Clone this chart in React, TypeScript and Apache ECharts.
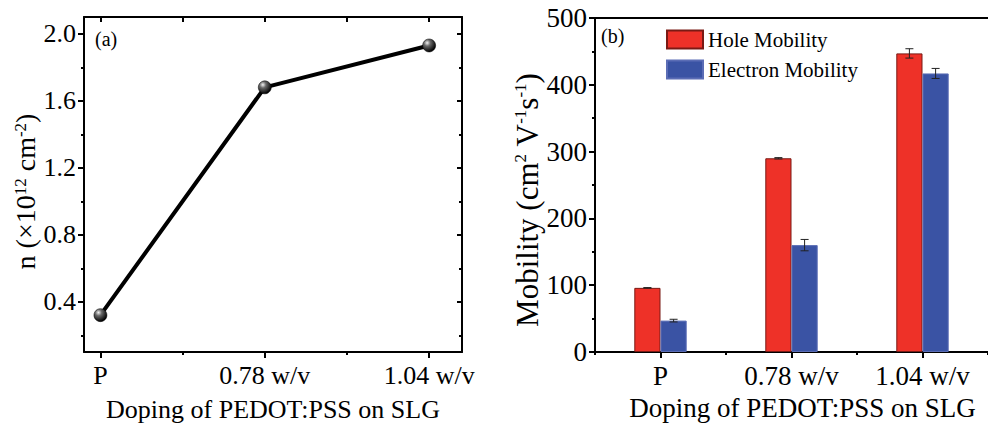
import React, { useEffect, useRef } from 'react';
import * as echarts from 'echarts';

const FONT = '"Liberation Serif", "Times New Roman", serif';

const categories = ['P', '0.78 w/v', '1.04 w/v'];
const carrierDensity = [0.32, 1.68, 1.93];
const leftYMajor = [0.4, 0.8, 1.2, 1.6, 2.0];
const leftYMinor = [0.2, 0.6, 1.0, 1.4, 1.8];
const leftXMajor = [0, 1, 2];
const leftXMinor = [0.5, 1.5];
const leftXRange = [-0.1, 2.2];
const leftYRange = [0.1, 2.1];

const holeMobility = [96, 290, 447];
const holeErr = [0.4, 1, 7];
const electronMobility = [47, 160, 417];
const electronErr = [2, 8.5, 7.5];
const rightYRange = [0, 500];

const RED = '#ee3128';
const BLUE = '#3a53a4';

export default function App() {
  const ref = useRef<HTMLDivElement>(null);
  useEffect(() => {
    const chart = echarts.init(ref.current!, null, { renderer: 'svg' });
    const axisLineOn = () => ({ show: true, onZero: false, lineStyle: { color: '#000', width: 2 } });
    const tickStyle = () => ({ color: '#000', width: 2 });
    const noLabel = { show: false };
    const noSplit = { show: false };
    const supRich = {
      sup: { fontSize: 17, verticalAlign: 'top', fontFamily: FONT, color: '#000', lineHeight: 28 },
    };

    const sphere = new echarts.graphic.RadialGradient(0.35, 0.3, 0.7, [
      { offset: 0, color: '#f2f2f2' },
      { offset: 0.35, color: '#6a6a6a' },
      { offset: 1, color: '#000' },
    ]);

    const errData: number[][] = [];
    holeMobility.forEach((v, i) => errData.push([i, v, holeErr[i], -1]));
    electronMobility.forEach((v, i) => errData.push([i, v, electronErr[i], 1]));

    const frameLine = (x1: number, y1: number, x2: number, y2: number) => ({
      type: 'line', shape: { x1, y1, x2, y2 }, style: { stroke: '#000', lineWidth: 2 },
    });

    const option: any = {
      animation: false,
      backgroundColor: '#fff',
      textStyle: { fontFamily: FONT, color: '#000' },
      grid: [
        { left: 84, top: 17, width: 378, height: 339 },
        { left: 595, top: 18, width: 399, height: 334 },
      ],
      xAxis: [
        {
          type: 'value', gridIndex: 0, min: leftXRange[0], max: leftXRange[1], position: 'bottom',
          axisLine: axisLineOn(),
          axisTick: { show: true, customValues: leftXMajor, length: 6, lineStyle: tickStyle() },
          axisLabel: {
            customValues: leftXMajor, fontSize: 26, color: '#000', fontFamily: FONT, margin: 10,
            formatter: (v: number) => categories[Math.round(v)] ?? '',
          },
          splitLine: noSplit,
          name: 'Doping of PEDOT:PSS on SLG', nameLocation: 'middle', nameGap: 44,
          nameTextStyle: { fontSize: 26, fontFamily: FONT, color: '#000' },
        },
        {
          type: 'value', gridIndex: 0, min: leftXRange[0], max: leftXRange[1], position: 'bottom',
          axisLine: { show: false, onZero: false },
          axisTick: { show: true, customValues: leftXMinor, length: 3, lineStyle: tickStyle() },
          axisLabel: noLabel, splitLine: noSplit,
        },
        {
          type: 'value', gridIndex: 0, min: leftXRange[0], max: leftXRange[1], position: 'top',
          axisLine: axisLineOn(),
          axisTick: { show: true, inside: true, customValues: [0, 0.5, 1, 1.5, 2], length: 5, lineStyle: tickStyle() },
          axisLabel: noLabel, splitLine: noSplit,
        },
        {
          type: 'category', gridIndex: 1, data: categories, position: 'bottom', boundaryGap: true,
          axisLine: axisLineOn(),
          axisTick: { show: true, alignWithLabel: true, length: 6, lineStyle: tickStyle() },
          axisLabel: { fontSize: 27, color: '#000', fontFamily: FONT, margin: 10 },
          splitLine: noSplit,
          name: 'Doping of PEDOT:PSS on SLG', nameLocation: 'middle', nameGap: 42,
          nameTextStyle: { fontSize: 27, fontFamily: FONT, color: '#000', padding: [0, 0, 0, 22] },
        },
        {
          type: 'category', gridIndex: 1, data: categories, position: 'bottom', boundaryGap: true,
          axisLine: { show: false, onZero: false },
          axisTick: { show: true, length: 3, lineStyle: tickStyle() },
          axisLabel: noLabel, splitLine: noSplit,
        },
        {
          type: 'category', gridIndex: 1, data: categories, position: 'top', boundaryGap: true,
          axisLine: axisLineOn(),
          axisTick: { show: false }, axisLabel: noLabel, splitLine: noSplit,
        },
      ],
      yAxis: [
        {
          type: 'value', gridIndex: 0, min: leftYRange[0], max: leftYRange[1], position: 'left',
          axisLine: axisLineOn(),
          axisTick: { show: true, customValues: leftYMajor, length: 6, lineStyle: tickStyle() },
          axisLabel: {
            customValues: leftYMajor, fontSize: 26, color: '#000', fontFamily: FONT, margin: 8,
            formatter: (v: number) => v.toFixed(1),
          },
          splitLine: noSplit,
          name: 'n (×10{sup|12} cm{sup|-2})', nameLocation: 'middle', nameGap: 38,
          nameTextStyle: { fontSize: 28, fontFamily: FONT, color: '#000', rich: supRich, padding: [0, 14, 0, 0] },
        },
        {
          type: 'value', gridIndex: 0, min: leftYRange[0], max: leftYRange[1], position: 'left',
          axisLine: { show: false, onZero: false },
          axisTick: { show: true, customValues: leftYMinor, length: 3, lineStyle: tickStyle() },
          axisLabel: noLabel, splitLine: noSplit,
        },
        {
          type: 'value', gridIndex: 0, min: leftYRange[0], max: leftYRange[1], position: 'right',
          axisLine: axisLineOn(),
          axisTick: { show: true, inside: true, customValues: leftYMajor, length: 5, lineStyle: tickStyle() },
          axisLabel: noLabel, splitLine: noSplit,
        },
        {
          type: 'value', gridIndex: 0, min: leftYRange[0], max: leftYRange[1], position: 'right',
          axisLine: { show: false, onZero: false },
          axisTick: { show: true, inside: true, customValues: leftYMinor, length: 3, lineStyle: tickStyle() },
          axisLabel: noLabel, splitLine: noSplit,
        },
        {
          type: 'value', gridIndex: 1, min: rightYRange[0], max: rightYRange[1], interval: 100, position: 'left',
          axisLine: axisLineOn(),
          axisTick: { show: true, length: 6, lineStyle: tickStyle() },
          minorTick: { show: true, splitNumber: 2, length: 3, lineStyle: tickStyle() },
          axisLabel: { fontSize: 27, color: '#000', fontFamily: FONT, margin: 8 },
          splitLine: noSplit, minorSplitLine: { show: false },
          name: 'Mobility (cm{sup|2} V{sup|-1}s{sup|-1})', nameLocation: 'middle', nameGap: 50,
          nameTextStyle: { fontSize: 31, fontFamily: FONT, color: '#000', rich: supRich, padding: [0, 30, 0, 0] },
        },
      ],
      legend: {
        data: ['Hole Mobility', 'Electron Mobility'],
        orient: 'vertical', left: 666, top: 29, itemWidth: 36, itemHeight: 18, itemGap: 9,
        padding: 0,
        icon: 'rect',
        textStyle: { fontSize: 21, fontFamily: FONT, color: '#000' },
      },
      graphic: [
        { type: 'text', left: 95, top: 29, style: { text: '(a)', fontSize: 20, fontFamily: FONT, fill: '#000' } },
        { type: 'text', left: 601, top: 26, style: { text: '(b)', fontSize: 20, fontFamily: FONT, fill: '#000' } },
      ],
      series: [
        {
          name: 'frameA', type: 'custom', xAxisIndex: 0, yAxisIndex: 0, z: 4, clip: false,
          data: [[0, 1]],
          renderItem: (params: any, api: any) => {
            const p0 = api.coord([leftXRange[0], leftYRange[1]]);
            const p1 = api.coord([leftXRange[1], leftYRange[0]]);
            return {
              type: 'group',
              children: [
                frameLine(p0[0], p0[1], p1[0], p0[1]),
                frameLine(p0[0], p1[1], p1[0], p1[1]),
                frameLine(p0[0], p0[1], p0[0], p1[1]),
                frameLine(p1[0], p0[1], p1[0], p1[1]),
              ],
            };
          },
        },
        {
          name: 'frameB', type: 'custom', xAxisIndex: 3, yAxisIndex: 4, z: 4, clip: false,
          data: [[0, 100]],
          renderItem: (params: any, api: any) => {
            const band = api.size([1, 0])[0];
            const top = api.coord([0, rightYRange[1]]);
            const bot = api.coord([0, rightYRange[0]]);
            const x0 = top[0] - band / 2;
            return frameLine(x0, top[1], x0, bot[1]);
          },
        },
        {
          type: 'line', xAxisIndex: 0, yAxisIndex: 0, clip: false,
          data: carrierDensity.map((v, i) => [i, v]),
          lineStyle: { color: '#000', width: 4 },
          symbol: 'circle', symbolSize: 13,
          itemStyle: { color: sphere, borderColor: '#000', borderWidth: 0.5 },
          z: 3,
        },
        {
          name: 'Hole Mobility', type: 'bar', xAxisIndex: 3, yAxisIndex: 4, clip: false,
          data: holeMobility, barWidth: '20%', barGap: '0%',
          itemStyle: { color: RED, borderColor: '#7a1a14', borderWidth: 1 },
        },
        {
          name: 'Electron Mobility', type: 'bar', xAxisIndex: 3, yAxisIndex: 4, clip: false,
          data: electronMobility, barWidth: '20%', barGap: '0%',
          itemStyle: { color: BLUE, borderColor: '#5b6db5', borderWidth: 1 },
        },
        {
          type: 'custom', xAxisIndex: 3, yAxisIndex: 4, data: errData, z: 5, clip: false,
          encode: { x: 0, y: 1 },
          renderItem: (params: any, api: any) => {
            const i = api.value(0);
            const v = api.value(1);
            const e = api.value(2);
            const s = api.value(3);
            const band = api.size([1, 0])[0];
            const off = s * band * 0.1;
            const top = api.coord([i, v + e]);
            const bot = api.coord([i, v - e]);
            const x = top[0] + off;
            const cap = 4;
            const st = { stroke: '#222', lineWidth: 1 };
            return {
              type: 'group',
              children: [
                { type: 'line', shape: { x1: x, y1: top[1], x2: x, y2: bot[1] }, style: st },
                { type: 'line', shape: { x1: x - cap, y1: top[1], x2: x + cap, y2: top[1] }, style: st },
                { type: 'line', shape: { x1: x - cap, y1: bot[1], x2: x + cap, y2: bot[1] }, style: st },
              ],
            };
          },
        },
      ],
    };
    chart.setOption(option);
    return () => chart.dispose();
  }, []);
  return (
    <div
      ref={ref}
      style={{ position: 'fixed', left: 0, top: 0, width: 988, height: 427, background: '#fff' }}
    />
  );
}
